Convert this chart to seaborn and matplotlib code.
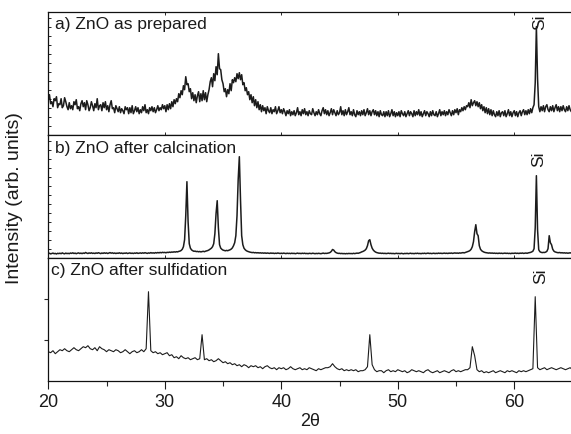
import numpy as np
import pandas as pd
import matplotlib
matplotlib.use("Agg")
import matplotlib.pyplot as plt
from matplotlib.ticker import MultipleLocator, FixedLocator, NullFormatter
import seaborn as sns

# Scan grids (degrees 2-theta)
two_theta_fine = np.linspace(20, 65, 451)    # 0.1 deg step
two_theta_coarse = np.linspace(20, 65, 226)  # 0.2 deg step

# a) ZnO as prepared (0.1 deg step)
intensity_prepared = [
    35, 40, 31, 33, 28, 36, 34, 38, 27, 31,
    30, 36, 27, 29, 37, 33, 28, 25, 32, 26,
    29, 25, 33, 30, 35, 26, 28, 24, 31, 34,
    28, 32, 25, 34, 30, 24, 27, 33, 29, 24,
    31, 27, 36, 25, 29, 30, 24, 32, 27, 33,
    25, 29, 23, 30, 34, 26, 27, 22, 29, 26,
    23, 28, 22, 26, 24, 21, 28, 25, 27, 21,
    27, 22, 29, 21, 24, 28, 23, 27, 21, 25,
    22, 28, 24, 30, 22, 25, 21, 27, 24, 28,
    23, 27, 22, 25, 29, 24, 27, 25, 30, 26,
    29, 23, 30, 25, 31, 26, 33, 28, 35, 31,
    36, 33, 41, 37, 44, 40, 49, 45, 58, 50,
    51, 43, 46, 36, 42, 34, 40, 32, 39, 43,
    33, 41, 34, 44, 35, 42, 33, 40, 45, 53,
    57, 48, 61, 54, 68, 60, 81, 66, 65, 55,
    51, 43, 46, 38, 45, 41, 51, 44, 55, 52,
    57, 53, 61, 56, 62, 55, 60, 50, 52, 44,
    47, 40, 43, 35, 40, 32, 38, 29, 35, 27,
    33, 25, 30, 23, 29, 24, 27, 21, 28, 24,
    22, 27, 21, 25, 23, 28, 21, 24, 28, 22,
    25, 21, 26, 23, 19, 24, 21, 25, 19, 23,
    20, 24, 19, 22, 27, 20, 23, 19, 25, 21,
    26, 20, 23, 19, 24, 21, 20, 26, 22, 19,
    23, 20, 25, 21, 19, 24, 27, 21, 25, 20,
    24, 19, 22, 26, 20, 25, 22, 19, 24, 20,
    22, 28, 20, 24, 19, 25, 20, 23, 27, 20,
    23, 19, 25, 20, 18, 24, 20, 23, 19, 24,
    20, 25, 19, 22, 26, 20, 24, 19, 23, 25,
    20, 24, 19, 23, 18, 24, 20, 19, 23, 18,
    23, 19, 24, 18, 21, 25, 19, 23, 18, 22,
    19, 23, 18, 24, 21, 19, 23, 18, 21, 24,
    19, 23, 21, 18, 24, 19, 23, 20, 25, 19,
    23, 18, 21, 24, 19, 23, 21, 18, 23, 19,
    24, 20, 19, 23, 18, 21, 25, 19, 23, 20,
    24, 19, 23, 20, 25, 22, 19, 24, 20, 25,
    22, 26, 20, 25, 23, 27, 24, 28, 25, 29,
    28, 32, 27, 35, 29, 32, 34, 29, 33, 28,
    32, 26, 30, 24, 28, 22, 27, 21, 26, 20,
    25, 19, 24, 20, 18, 23, 19, 24, 18, 22,
    23, 19, 24, 18, 21, 25, 19, 23, 18, 22,
    24, 19, 23, 18, 22, 24, 19, 23, 25, 20,
    24, 20, 25, 21, 26, 22, 27, 30, 52, 108,
    56, 28, 23, 28, 24, 29, 23, 28, 30, 25,
    23, 28, 24, 29, 23, 27, 30, 24, 28, 23,
    28, 24, 29, 25, 23, 28, 24, 29, 25, 23,
    27,
]

# b) ZnO after calcination (0.1 deg step)
intensity_calcined = [
    4, 4.5, 3.8, 4.2, 4.6, 4, 4.3, 3.7, 4.4, 4.1,
    4.5, 4, 4.8, 4.2, 3.9, 4.6, 4.1, 4.4, 4, 4.7,
    4.3, 4.9, 4.2, 4.6, 4, 4.5, 4.8, 4.2, 4.6, 4.1,
    4.7, 4.3, 5.2, 4.6, 4.2, 4.8, 4.4, 4.9, 4.3, 4.6,
    4.2, 4.8, 4.4, 5, 4.5, 4.1, 4.7, 4.3, 4.9, 4.4,
    4.8, 4.2, 4.6, 5.1, 4.5, 4.9, 4.3, 4.7, 4.2, 4.6,
    4.4, 4.9, 4.3, 4.7, 4.1, 4.6, 4.4, 4.8, 4.2, 4.5,
    4.8, 4.3, 4.6, 4.2, 4.7, 4.4, 4.9, 4.3, 4.6, 4.8,
    4.4, 4.9, 4.5, 5, 4.6, 4.3, 4.8, 4.5, 5.1, 4.6,
    4.9, 4.5, 5.1, 4.7, 5.2, 4.8, 5.3, 4.9, 5.4, 5.1,
    5.3, 4.9, 5.4, 5.2, 5.6, 5.3, 5.7, 5.5, 5.9, 5.6,
    6, 5.8, 6.3, 6.6, 7.2, 8.4, 11, 18, 42, 76,
    36, 14, 9.5, 7.8, 7, 6.4, 6.6, 6.1, 6.3, 5.9,
    6.2, 5.8, 6.1, 6.4, 6, 6.5, 6.8, 7.2, 7.8, 8.6,
    9.5, 11, 14, 24, 44, 57, 30, 13, 9.6, 8.4,
    7.6, 7.2, 6.9, 7.3, 7, 7.4, 7.9, 8.6, 9.8, 12,
    15, 22, 42, 78, 101, 58, 22, 13, 9.5, 8,
    7, 6.4, 6, 5.6, 5.4, 5.1, 5.3, 4.9, 5.1, 4.8,
    5, 4.7, 4.9, 4.6, 4.8, 4.5, 4.8, 4.4, 4.7, 4.5,
    4.3, 4.7, 4.4, 4.6, 4.2, 4.5, 4.3, 4.7, 4.4, 4.2,
    4.5, 4.2, 4.6, 4.3, 4.1, 4.5, 4.2, 4.4, 4.1, 4.5,
    4.2, 4.4, 4, 4.3, 4.6, 4.2, 4.4, 4.1, 4.5, 4.2,
    4.5, 4.1, 4.3, 4, 4.4, 4.2, 4.1, 4.5, 4.2, 4,
    4.3, 4.1, 4.4, 4.2, 4, 4.3, 4.6, 4.2, 4.4, 4.3,
    4.5, 4.8, 5.3, 6.4, 8.2, 7.6, 6, 5.1, 4.6, 4.3,
    4.4, 4.1, 4.3, 4, 4.2, 3.9, 4.2, 4, 4.3, 4.1,
    4.2, 4, 4.4, 4.1, 4.3, 4.6, 4.4, 4.8, 5.2, 5.8,
    6.2, 6.8, 7.6, 9, 12, 17, 18, 13, 9.5, 7.6,
    6.4, 5.6, 5.1, 4.8, 4.5, 4.6, 4.3, 4.5, 4.2, 4.4,
    4.1, 4.3, 4.5, 4.2, 4.4, 4.1, 4.3, 4, 4.2, 4.4,
    4.1, 4.3, 4, 4.4, 4.2, 3.9, 4.3, 4.1, 4.4, 4,
    4.2, 4.5, 4.1, 4.3, 4, 4.4, 4.2, 4.5, 4.1, 4.3,
    4, 4.4, 4.2, 4.5, 4.1, 4.3, 4.6, 4.2, 4.4, 4.1,
    4.3, 4.5, 4.1, 4.4, 4.2, 4.6, 4.3, 4.5, 4.2, 4.4,
    4.6, 4.3, 4.5, 4.2, 4.6, 4.4, 4.7, 4.3, 4.6, 4.8,
    4.5, 4.7, 4.4, 4.8, 4.6, 4.9, 5.1, 4.8, 5.2, 5.6,
    5.9, 6.5, 7.2, 8.5, 11, 16, 26, 33, 24, 22,
    12, 8.5, 7, 6.2, 5.6, 5.2, 5, 4.8, 4.6, 4.8,
    4.5, 4.7, 4.4, 4.6, 4.3, 4.5, 4.2, 4.6, 4.3, 4.5,
    4.2, 4.4, 4.6, 4.3, 4.5, 4.2, 4.4, 4.1, 4.5, 4.3,
    4.4, 4.6, 4.3, 4.5, 4.2, 4.6, 4.4, 4.7, 4.3, 4.5,
    4.7, 4.4, 4.8, 5, 5.3, 5.8, 6.5, 9, 30, 82,
    28, 8, 6, 5.4, 5.1, 5.3, 5.2, 5.6, 6.4, 9,
    22, 15, 13, 8.5, 6.6, 5.8, 5.4, 5.1, 5, 5.2,
    4.8, 5, 4.7, 4.9, 4.6, 4.8, 4.5, 4.7, 4.9, 4.6,
    4.8,
]

# c) ZnO after sulfidation (0.2 deg step)
intensity_sulfided = [
    29, 28, 30, 27, 29, 31, 30, 32, 30, 29,
    31, 33, 31, 30, 32, 34, 33, 35, 32, 31,
    33, 30, 34, 32, 31, 29, 31, 30, 29, 31,
    30, 28, 29, 31, 29, 27, 29, 30, 28, 29,
    31, 29, 32, 89, 30, 28, 29, 27, 28, 26,
    27, 28, 25, 26, 23, 24, 22, 25, 23, 22,
    23, 21, 22, 23, 21, 22, 46, 21, 22, 20,
    21, 19, 20, 22, 20, 18, 19, 17, 18, 16,
    17, 15, 16, 14, 16, 15, 13, 15, 14, 15,
    13, 14, 12, 14, 15, 13, 12, 13, 11, 13,
    12, 13, 11, 12, 14, 12, 11, 12, 13, 11,
    12, 11, 13, 12, 11, 10, 12, 11, 12, 13,
    13, 14, 17, 14, 12, 11, 12, 10, 11, 10,
    11, 10, 11, 9, 10, 10, 11, 14, 46, 16,
    11, 9, 10, 10, 8, 10, 11, 9, 10, 9,
    11, 10, 9, 10, 8, 9, 11, 10, 9, 10,
    9, 8, 10, 11, 9, 8, 9, 10, 8, 9,
    10, 9, 8, 10, 11, 9, 10, 9, 10, 11,
    11, 13, 34, 25, 11, 9, 10, 8, 9, 8,
    9, 10, 8, 9, 10, 9, 8, 10, 9, 10,
    9, 8, 10, 9, 10, 9, 10, 11, 12, 84,
    13, 11, 12, 13, 11, 12, 13, 12, 11, 12,
    13, 12, 11, 12, 13, 11,
]

panel_titles = ["a) ZnO as prepared", "b) ZnO after calcination", "c) ZnO after sulfidation"]
x_ticks = [20, 30, 40, 50, 60]
x_label = "2\u03b8"
y_label = "Intensity (arb. units)"
si_label = "Si"

sns.set_style("ticks")
plt.rcParams["font.family"] = ["Liberation Sans", "DejaVu Sans"]
plt.rcParams["axes.linewidth"] = 0.9

frames = [
    pd.DataFrame({"two_theta": two_theta_fine, "intensity": intensity_prepared}),
    pd.DataFrame({"two_theta": two_theta_fine, "intensity": intensity_calcined}),
    pd.DataFrame({"two_theta": two_theta_coarse, "intensity": intensity_sulfided}),
]
line_widths = [1.1, 1.1, 0.8]
line_color = "#1c1c1c"

fig, axes = plt.subplots(3, 1, sharex=True, figsize=(5.71, 4.35), dpi=100)
fig.subplots_adjust(left=48.3 / 571, right=572.5 / 571, top=1 - 12.7 / 435,
                    bottom=1 - 381.7 / 435, hspace=0)

si_positions = [(62.15, 113), (62.1, 99), (62.3, 105.5)]

for i, (ax, df) in enumerate(zip(axes, frames)):
    sns.lineplot(data=df, x="two_theta", y="intensity", ax=ax, color=line_color,
                 linewidth=line_widths[i], sort=False, estimator=None)
    ax.set_xlim(20, 65)
    ax.set_ylim(0, 123)
    ax.set_xlabel("")
    ax.set_ylabel("")
    for s in ax.spines.values():
        s.set_color("#111111")
        s.set_visible(True)
    ax.text(0.012 if i < 2 else 0.005, 0.9, panel_titles[i], transform=ax.transAxes,
            ha="left", va="center", fontsize=12.5, color="#1a1a1a")
    sx, sy = si_positions[i]
    ax.text(sx, sy, si_label, rotation=90, ha="center", va="center",
            fontsize=12.5, color="#1a1a1a", clip_on=False)
    ax.yaxis.set_major_formatter(NullFormatter())
    ax.yaxis.set_minor_formatter(NullFormatter())
    if i < 2:
        ax.yaxis.set_major_locator(FixedLocator([]))
        ax.yaxis.set_minor_locator(MultipleLocator(9))
        ax.tick_params(axis="y", which="minor", direction="in", length=2.2,
                       width=0.7, left=True, right=False)
        ax.tick_params(axis="x", which="major", direction="in", length=2.0,
                       width=0.7, top=(i == 0), bottom=True, labelbottom=False)
        ax.tick_params(axis="x", which="minor", length=0)
    else:
        ax.yaxis.set_major_locator(FixedLocator([41, 82]))
        ax.yaxis.set_minor_locator(FixedLocator([]))
        ax.tick_params(axis="y", which="major", direction="out", length=3.2,
                       width=0.8, left=True)

ax_c = axes[2]
ax_c.xaxis.set_major_locator(FixedLocator(x_ticks))
ax_c.xaxis.set_minor_locator(MultipleLocator(5))
ax_c.tick_params(axis="x", which="major", direction="out", length=5.5, width=0.8,
                 labelsize=13, colors="#1a1a1a", pad=3)
ax_c.tick_params(axis="x", which="minor", direction="out", length=3.5, width=0.8)
ax_c.set_xticklabels([str(t) for t in x_ticks])
ax_c.set_xlabel(x_label, fontsize=13, color="#1a1a1a", labelpad=2)

fig.text(15 / 571, 1 - 198 / 435, y_label, rotation=90, ha="center", va="center",
         fontsize=14, color="#1a1a1a")

fig.savefig("out.png", dpi=100)
